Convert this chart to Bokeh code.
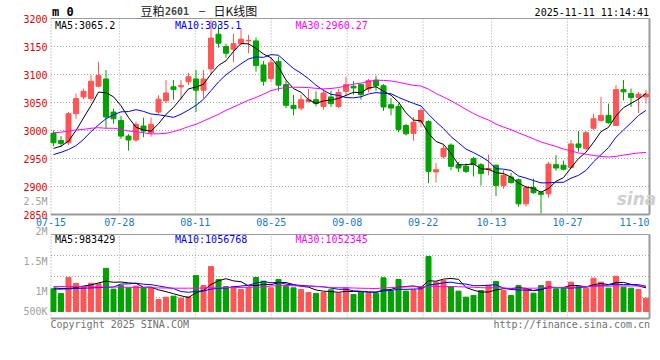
from bokeh.plotting import figure
from bokeh.models import Range1d, ColumnDataSource
from bokeh.core.properties import value
from bokeh.embed import file_html
from bokeh.resources import INLINE

# ---------------- data ----------------
dates = ["07-15", "07-16", "07-17", "07-18", "07-21", "07-22", "07-23", "07-24", "07-25", "07-28",
         "07-29", "07-30", "07-31", "08-01", "08-04", "08-05", "08-06", "08-07", "08-08", "08-11",
         "08-12", "08-13", "08-14", "08-15", "08-18", "08-19", "08-20", "08-21", "08-22", "08-25",
         "08-26", "08-27", "08-28", "08-29", "09-01", "09-02", "09-03", "09-04", "09-05", "09-08",
         "09-09", "09-10", "09-11", "09-12", "09-15", "09-16", "09-17", "09-18", "09-19", "09-22",
         "09-23", "09-24", "09-25", "09-26", "09-29", "09-30", "10-09", "10-10", "10-13", "10-14",
         "10-15", "10-16", "10-17", "10-20", "10-21", "10-22", "10-23", "10-24", "10-27", "10-28",
         "10-29", "10-30", "10-31", "11-03", "11-04", "11-05", "11-06", "11-07", "11-10", "11-11"]

opens = [2995, 2982, 2978, 3030, 3060, 3057, 3079, 3092, 3033, 3018,
         2990, 2983, 3008, 2996, 3033, 3053, 3078, 3078, 3087, 3092,
         3072, 3110, 3172, 3150, 3145, 3155, 3160, 3160, 3117, 3093,
         3123, 3082, 3045, 3040, 3052, 3055, 3043, 3060, 3043, 3070,
         3079, 3082, 3074, 3090, 3080, 3046, 3043, 3009, 2995, 3015,
         3016, 2926, 2953, 2974, 2939, 2936, 2950, 2939, 2930, 2938,
         2902, 2917, 2912, 2869, 2898, 2889, 2887, 2939, 2938, 2934,
         2976, 2968, 3004, 3018, 3027, 3009, 3073, 3066, 3059, 3060]
highs = [3000, 2990, 3033, 3066, 3075, 3099, 3123, 3108, 3039, 3026,
         2994, 3016, 3023, 3023, 3063, 3090, 3090, 3090, 3103, 3108,
         3108, 3197, 3188, 3155, 3173, 3182, 3171, 3166, 3124, 3130,
         3132, 3089, 3064, 3064, 3074, 3070, 3074, 3071, 3074, 3096,
         3088, 3083, 3092, 3098, 3083, 3058, 3048, 3012, 3024, 3040,
         3018, 2942, 2974, 2977, 2944, 2941, 2953, 2942, 2957, 2939,
         2929, 2924, 2914, 2901, 2914, 2892, 2944, 2956, 2946, 2983,
         2999, 2999, 3030, 3060, 3048, 3081, 3090, 3075, 3069, 3072]
lows = [2972, 2971, 2974, 3021, 3056, 3053, 3077, 3004, 3012, 2985,
        2964, 2980, 2988, 2989, 3030, 3049, 3055, 3055, 3081, 3033,
        3058, 3099, 3148, 3130, 3122, 3152, 3138, 3105, 3080, 3087,
        3070, 3040, 3027, 3036, 3050, 3043, 3037, 3042, 3040, 3062,
        3064, 3055, 3068, 3071, 3035, 3027, 2997, 2991, 2982, 3006,
        2906, 2907, 2950, 2929, 2926, 2924, 2918, 2902, 2920, 2883,
        2896, 2905, 2864, 2864, 2887, 2852, 2880, 2928, 2929, 2932,
        2962, 2964, 3001, 3016, 3012, 3008, 3054, 3042, 3031, 3048]
closes = [2978, 2977, 3030, 3057, 3070, 3088, 3098, 3024, 3021, 2990,
          2983, 3011, 2999, 3011, 3056, 3067, 3073, 3080, 3096, 3072,
          3092, 3165, 3156, 3138, 3155, 3163, 3161, 3116, 3088, 3121,
          3081, 3045, 3039, 3055, 3055, 3048, 3067, 3048, 3068, 3082,
          3076, 3064, 3089, 3080, 3042, 3040, 3002, 2994, 3015, 3036,
          2927, 2930, 2968, 2936, 2933, 2927, 2939, 2923, 2932, 2902,
          2920, 2907, 2869, 2898, 2889, 2886, 2940, 2933, 2931, 2976,
          2970, 2996, 3021, 3027, 3014, 3073, 3069, 3059, 3065, 3065]
volumes = [1045000, 967000, 1235000, 1136000, 1075000, 1136000, 1130000, 1386000, 1040000, 1100000,
           1061000, 1090000, 1061000, 1060000, 867000, 906000, 922000, 889000, 911000, 1267000,
           1100000, 1417000, 1200000, 1083000, 1083000, 1033000, 1070000, 1233000, 1172000, 1061000,
           1200000, 1083000, 1061000, 1033000, 983000, 967000, 983000, 1028000, 972000, 1061000,
           950000, 989000, 972000, 972000, 1228000, 1006000, 1200000, 1006000, 1028000, 1083000,
           1583000, 1156000, 1183000, 1083000, 1006000, 906000, 933000, 1017000, 1100000, 1167000,
           1017000, 933000, 1100000, 1044000, 972000, 1100000, 1167000, 1044000, 1044000, 1156000,
           1083000, 1055000, 1222000, 1156000, 1055000, 1255000, 1072000, 1055000, 1033000, 889000]

# moving-average values before enough history exists
ma5_head = [2968, 2972, 2981, 3000]
ma10_head = [2957, 2961, 2966, 2973, 2984, 2998, 3010, 3021, 3028]
ma30_head = [2996, 2997, 2999, 3001, 3002, 3004, 3005, 3004, 3004, 3002,
             2999, 2998, 2996, 2994, 2994, 2995, 2998, 3002, 3007, 3011,
             3017, 3023, 3029, 3036, 3042, 3048, 3054, 3059, 3065]
vma5_head = [1060000, 1050000, 1050000, 1065000]
vma10_head = [1040000, 1040000, 1045000, 1050000, 1055000, 1060000, 1065000, 1070000, 1075000]
vma30_head = [1083000, 1083000, 1083000, 1082000, 1080000, 1078000, 1076000, 1075000, 1074000, 1072000,
              1070000, 1068000, 1065000, 1062000, 1060000, 1058000, 1056000, 1055000, 1055000, 1056000,
              1058000, 1060000, 1062000, 1064000, 1066000, 1068000, 1070000, 1072000, 1074000]

price_ticks = [2850, 2900, 2950, 3000, 3050, 3100, 3150, 3200]
price_tick_labels = ["2850", "2900", "2950", "3000", "3050", "3100", "3150", "3200"]
vol_ticks = [500000, 1000000, 1500000, 2000000, 2500000]
vol_tick_labels = ["500K", "1M", "1.5M", "2M", "2.5M"]
date_ticks = ["07-15", "07-28", "08-11", "08-25", "09-08", "09-22", "10-13", "10-27", "11-10"]
price_legend = ["MA5:3065.2", "MA10:3035.1", "MA30:2960.27"]
vol_legend = ["MA5:983429", "MA10:1056768", "MA30:1052345"]
title_parts = ["豆粕", "2601", "—", "日K线图"]
timestamp = "2025-11-11 11:14:41"
corner_text = "m 0"
footer_left = "Copyright 2025 SINA.COM"
footer_right = "http://finance.sina.com.cn"
watermark = "sina"

# ---------------- layout (page pixels; the canvas sits at the page origin) ----------------
W, H = 656, 350
OFF = 0
X0_PX, PX_IDX = 53, 7.5      # first candle centre, pixels per trading day
BOX_L, BOX_R = 50.5, 649
P_TOP, P_BOT, P_TOP_PX, PX_PER_P = 3200, 2850, 18, 0.56
V_REF, V_REF_PX, PX_PER_V = 1e6, 291, 60e-6
VOL_BOX_TOP_PX, VOL_BOX_BOT_PX, VOL_BASE_PX = 234, 318, 311


def px2x(px):
    return (px - X0_PX) / PX_IDX


def py2p(py):
    return P_TOP - (py - P_TOP_PX) / PX_PER_P


def py2v(py):
    return V_REF + (V_REF_PX - py) / PX_PER_V


MONO = value("DejaVu Sans Mono")
CJK = value("Noto Sans CJK SC")
RED, GREEN = "#ff5555", "#00a300"
GRID_C, BORDER_C = "#a8a8a8", "#9a9a9a"
AX_RED, AX_GRAY, DATE_BLUE = "#e60000", "#a0a0a0", "#1a78c8"

p = figure(width=W, height=H, output_backend="svg", toolbar_location=None,
           x_range=Range1d(px2x(OFF), px2x(OFF + W)),
           y_range=Range1d(py2p(OFF + H), py2p(OFF)),
           x_axis_location=None, y_axis_location=None, title_location=None,
           min_border=0, outline_line_color=None,
           background_fill_color="white", border_fill_color="white")
p.extra_y_ranges = {"vol": Range1d(py2v(OFF + H), py2v(OFF))}
p.grid.visible = False

n = len(dates)
idx = list(range(n))
PX0, PX1 = px2x(BOX_L), px2x(BOX_R)
V_LO, V_HI = py2v(VOL_BOX_BOT_PX), py2v(VOL_BOX_TOP_PX)
VOL_BASE = py2v(VOL_BASE_PX)
BODY_W = 5 / PX_IDX

# ---------------- grid ----------------
grid_pos = [PX0 + dates.index(d) * n / (n - 1) for d in date_ticks]
vgrid = [g for g in grid_pos if PX0 + 1 < g < PX1 - 1]
pgrid = [t for t in price_ticks if P_BOT < t < P_TOP]
vhgrid = [V_LO + k * (V_HI - V_LO) / 4 for k in (1, 2, 3)]

p.segment(x0=[PX0] * len(pgrid), y0=pgrid, x1=[PX1] * len(pgrid), y1=pgrid,
          line_color=GRID_C, line_width=1, line_dash="1 2")
p.segment(x0=vgrid, y0=[P_BOT] * len(vgrid), x1=vgrid, y1=[P_TOP] * len(vgrid),
          line_color=GRID_C, line_width=1, line_dash="1 2")
p.segment(x0=[PX0] * 3, y0=vhgrid, x1=[PX1] * 3, y1=vhgrid, y_range_name="vol",
          line_color=GRID_C, line_width=1, line_dash="1 2")
p.segment(x0=vgrid, y0=[V_LO] * len(vgrid), x1=vgrid, y1=[V_HI] * len(vgrid), y_range_name="vol",
          line_color=GRID_C, line_width=1, line_dash="1 2")

# panel borders
for lo, hi, rn in ((P_BOT, P_TOP, "default"), (V_LO, V_HI, "vol")):
    p.segment(x0=[PX0], y0=[hi], x1=[PX1], y1=[hi], y_range_name=rn, line_color=BORDER_C, line_width=1)
    p.segment(x0=[PX0], y0=[lo], x1=[PX1], y1=[lo], y_range_name=rn, line_color=BORDER_C, line_width=2)
    p.segment(x0=[PX1], y0=[lo], x1=[PX1], y1=[hi], y_range_name=rn, line_color=BORDER_C, line_width=2)
    p.segment(x0=[PX0], y0=[lo], x1=[PX0], y1=[hi], y_range_name=rn, line_color=BORDER_C,
              line_width=1, line_dash="1 2")

# ---------------- candles & volume ----------------
colors = [RED if c >= o else GREEN for o, c in zip(opens, closes)]
src = ColumnDataSource(dict(
    x=idx, h=highs, l=lows,
    top=[max(o, c) for o, c in zip(opens, closes)],
    bot=[min(o, c) for o, c in zip(opens, closes)],
    color=colors, vol=volumes))

p.vbar(x="x", width=BODY_W, bottom=VOL_BASE, top="vol", source=src, y_range_name="vol",
       fill_color="color", line_color="color", line_width=1)
p.segment(x0="x", y0="l", x1="x", y1="h", source=src, line_color="color", line_width=1)
p.vbar(x="x", width=BODY_W, top="top", bottom="bot", source=src,
       fill_color="color", line_color="color", line_width=1)


def moving(vals, k, head):
    return list(head) + [sum(vals[i - k + 1:i + 1]) / k for i in range(k - 1, len(vals))]


p.line(idx, moving(closes, 5, ma5_head), line_color="black", line_width=1)
p.line(idx, moving(closes, 10, ma10_head), line_color="#0000ff", line_width=1)
p.line(idx, moving(closes, 30, ma30_head), line_color="#ff00ff", line_width=1)
p.line(idx, moving(volumes, 5, vma5_head), line_color="black", line_width=1, y_range_name="vol")
p.line(idx, moving(volumes, 10, vma10_head), line_color="#0000ff", line_width=1, y_range_name="vol")
p.line(idx, moving(volumes, 30, vma30_head), line_color="#ff00ff", line_width=1, y_range_name="vol")


# ---------------- texts ----------------
def txt(x, y, t, color="black", size="10px", align="left", font=MONO, style="normal", rn="default"):
    p.text(x=x if isinstance(x, list) else [x], y=y if isinstance(y, list) else [y],
           text=t if isinstance(t, list) else [t], text_color=color, text_font_size=size,
           text_align=align, text_baseline="middle", text_font=font, text_font_style=style,
           y_range_name=rn)


# price axis labels
txt([px2x(47)] * len(price_ticks), price_ticks, price_tick_labels, color=AX_RED, align="right")
# volume axis labels (lowest one clamped to bar base)
txt([px2x(47)] * len(vol_ticks), [max(v, VOL_BASE) for v in vol_ticks], vol_tick_labels,
    color=AX_GRAY, align="right", rn="vol")

# date labels
half = len(date_ticks[-1]) * 6.02 / 2 / PX_IDX
date_x = [min(g, PX1 - half) for g in grid_pos]
txt(date_x, [py2p(221.5)] * len(date_ticks), date_ticks, color=DATE_BLUE, align="center")

# legends
leg_colors = ["black", "#0000ff", "#ff00ff"]
leg_px = [54.5, 174.5, 295]
for t, c, xp in zip(price_legend, leg_colors, leg_px):
    txt(px2x(xp), py2p(24.5), t, color=c)
for t, c, xp in zip(vol_legend, leg_colors, leg_px):
    txt(px2x(xp), py2p(238.5), t, color=c)

# header
txt(px2x(51.5), py2p(11), corner_text, size="12px", style="bold")
txt(px2x(140), py2p(10), title_parts[0], size="12px", font=CJK, color="#111111")
txt(px2x(164.5), py2p(10), title_parts[1], size="10px", color="#444444", style="bold")
txt(px2x(198.5), py2p(10), title_parts[2], size="10px", color="#111111")
txt(px2x(213), py2p(10), title_parts[3], size="12px", font=CJK, color="#111111")
txt(px2x(648.5), py2p(11.5), timestamp, align="right")

# footer
txt(px2x(50), py2p(324), footer_left, color="#707070")
txt(px2x(649.5), py2p(324), footer_right, color="#707070", align="right")

# watermark
txt(px2x(636), py2p(198), watermark, color="#cfcfcf", size="17px", align="center",
    font=value("DejaVu Sans"), style="bold italic")

open("out.html", "w").write(file_html(p, INLINE))
